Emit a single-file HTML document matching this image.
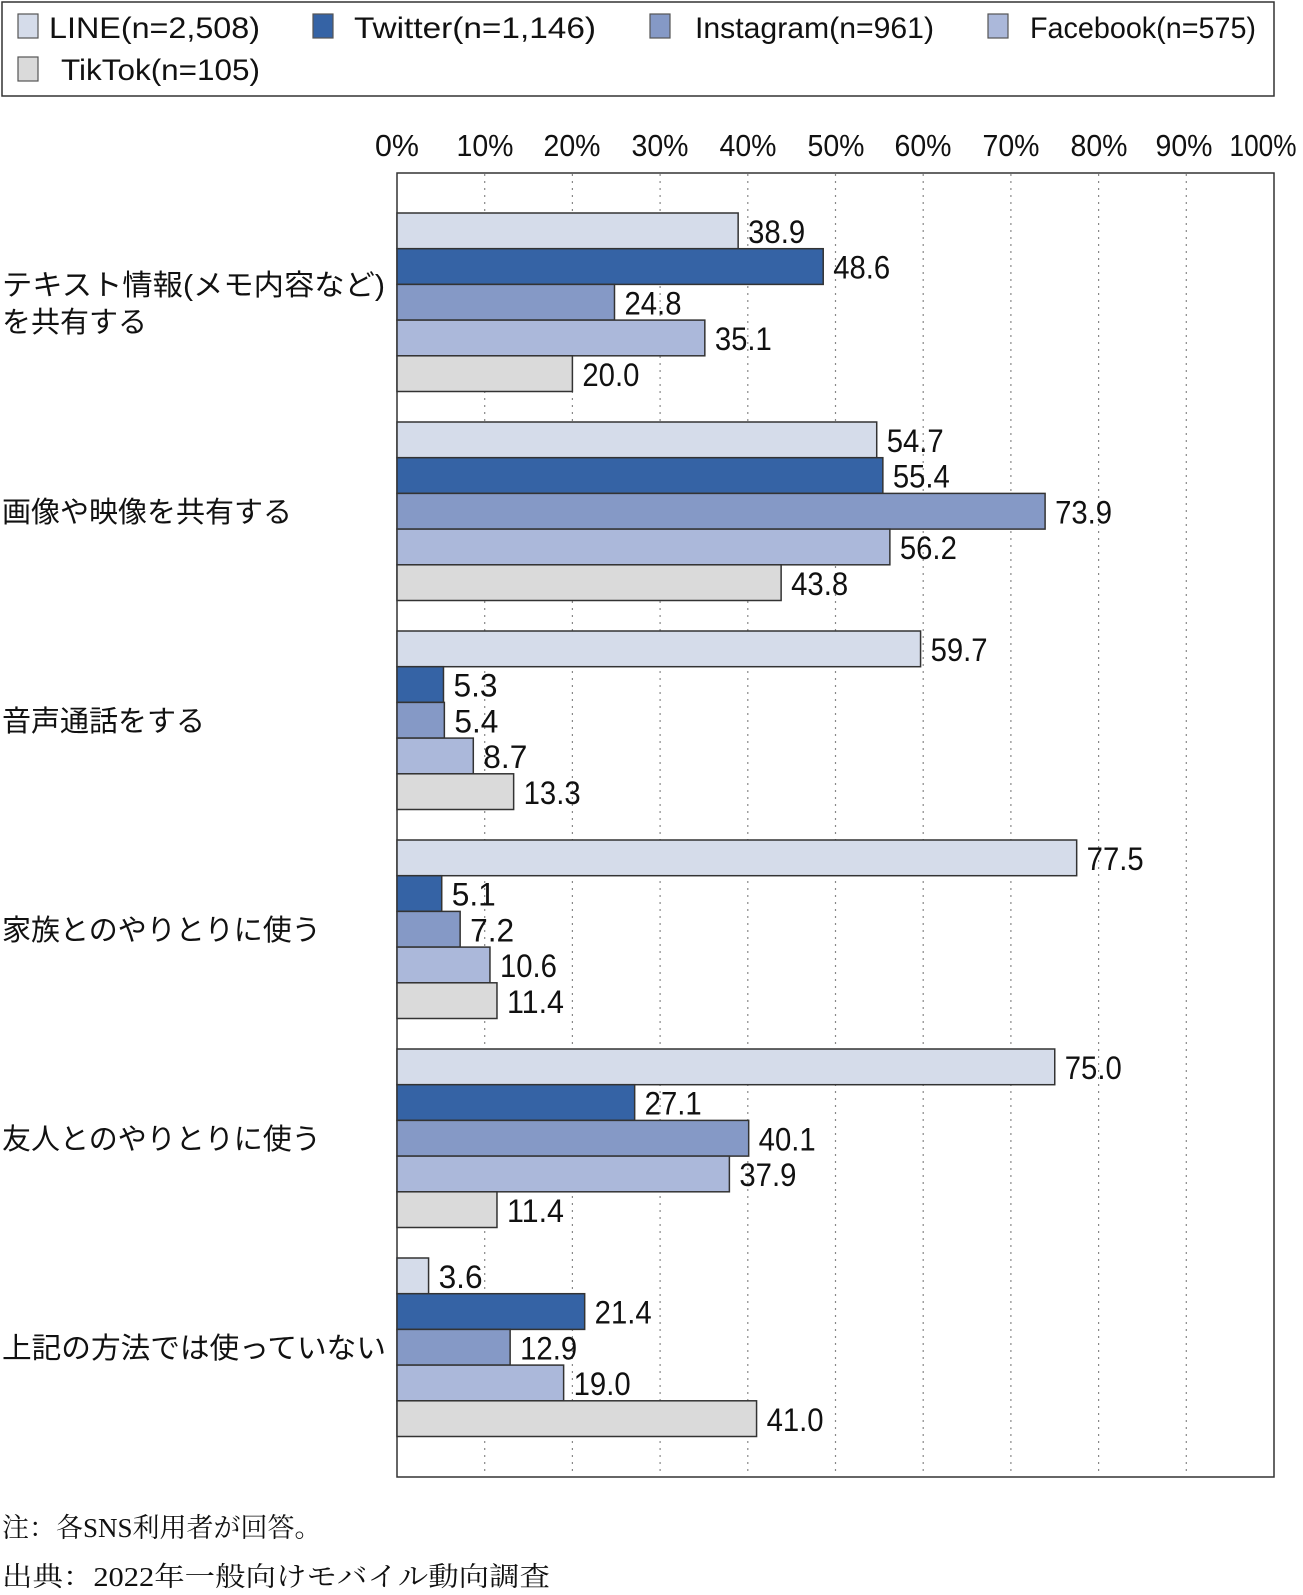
<!DOCTYPE html>
<html><head><meta charset="utf-8"><style>body{margin:0;background:#fff}svg{display:block}</style></head><body>
<svg width="1303" height="1595" xmlns="http://www.w3.org/2000/svg" font-family="'Liberation Sans','Noto Sans CJK JP',sans-serif">
<rect x="2" y="2" width="1272" height="94" fill="#fff" stroke="#333" stroke-width="1.5"/>
<g stroke="#555" stroke-width="1.2">
<rect x="18" y="14" width="20" height="24" fill="#d5dcea"/>
<rect x="313" y="14" width="20" height="24" fill="#3563a5"/>
<rect x="650" y="14" width="20" height="24" fill="#8599c6"/>
<rect x="988" y="14" width="20" height="24" fill="#abb8da"/>
<rect x="18" y="57" width="20" height="24" fill="#dadada"/>
</g>
<g font-size="30" fill="#111" lengthAdjust="spacingAndGlyphs">
<text x="49" y="38" textLength="211" lengthAdjust="spacingAndGlyphs">LINE(n=2,508)</text>
<text x="354" y="38" textLength="242" lengthAdjust="spacingAndGlyphs">Twitter(n=1,146)</text>
<text x="695" y="38" textLength="239" lengthAdjust="spacingAndGlyphs">Instagram(n=961)</text>
<text x="1030" y="38" textLength="226" lengthAdjust="spacingAndGlyphs">Facebook(n=575)</text>
<text x="61" y="80" textLength="199" lengthAdjust="spacingAndGlyphs">TikTok(n=105)</text>
</g>
<g font-size="31" fill="#111" text-anchor="middle">
<text x="397" y="156" textLength="44" lengthAdjust="spacingAndGlyphs">0%</text>
<text x="485" y="156" textLength="57" lengthAdjust="spacingAndGlyphs">10%</text>
<text x="572" y="156" textLength="57" lengthAdjust="spacingAndGlyphs">20%</text>
<text x="660" y="156" textLength="57" lengthAdjust="spacingAndGlyphs">30%</text>
<text x="748" y="156" textLength="57" lengthAdjust="spacingAndGlyphs">40%</text>
<text x="836" y="156" textLength="57" lengthAdjust="spacingAndGlyphs">50%</text>
<text x="923" y="156" textLength="57" lengthAdjust="spacingAndGlyphs">60%</text>
<text x="1011" y="156" textLength="57" lengthAdjust="spacingAndGlyphs">70%</text>
<text x="1099" y="156" textLength="57" lengthAdjust="spacingAndGlyphs">80%</text>
<text x="1184" y="156" textLength="57" lengthAdjust="spacingAndGlyphs">90%</text>
<text x="1263" y="156" textLength="67" lengthAdjust="spacingAndGlyphs">100%</text>
</g>
<rect x="397" y="173" width="877" height="1304" fill="#fff" stroke="#333" stroke-width="1.5"/>
<g stroke="#888" stroke-width="1.2" stroke-dasharray="2,5">
<line x1="484.7" y1="174" x2="484.7" y2="1476"/><line x1="572.4" y1="174" x2="572.4" y2="1476"/>
<line x1="660.1" y1="174" x2="660.1" y2="1476"/><line x1="747.8" y1="174" x2="747.8" y2="1476"/>
<line x1="835.5" y1="174" x2="835.5" y2="1476"/><line x1="923.2" y1="174" x2="923.2" y2="1476"/>
<line x1="1010.9" y1="174" x2="1010.9" y2="1476"/><line x1="1098.6" y1="174" x2="1098.6" y2="1476"/>
<line x1="1186.3" y1="174" x2="1186.3" y2="1476"/>
</g>
<g id="bars" stroke="#333" stroke-width="1.5"></g>
<g id="vals" font-size="32" fill="#111"></g>
<g font-size="29" fill="#111">
<text x="2" y="295" textLength="383" lengthAdjust="spacingAndGlyphs">テキスト情報(メモ内容など)</text>
<text x="2" y="332">を共有する</text>
<text x="2" y="522">画像や映像を共有する</text>
<text x="2" y="731">音声通話をする</text>
<text x="2" y="940">家族とのやりとりに使う</text>
<text x="2" y="1149">友人とのやりとりに使う</text>
<text x="2" y="1358" textLength="384" lengthAdjust="spacingAndGlyphs">上記の方法では使っていない</text>
</g>
<g font-family="'Liberation Serif','Noto Serif CJK SC',serif" font-size="27" fill="#111">
<text x="2" y="1537">注：各SNS利用者が回答。</text>
<text x="2" y="1586" textLength="548" lengthAdjust="spacingAndGlyphs">出典：2022年一般向けモバイル動向調査</text>
</g>
<script>
var d=[[38.9,48.6,24.8,35.1,20.0],[54.7,55.4,73.9,56.2,43.8],[59.7,5.3,5.4,8.7,13.3],[77.5,5.1,7.2,10.6,11.4],[75.0,27.1,40.1,37.9,11.4],[3.6,21.4,12.9,19.0,41.0]];
var c=["#d5dcea","#3563a5","#8599c6","#abb8da","#dadada"];
var ns="http://www.w3.org/2000/svg",B=document.getElementById("bars"),V=document.getElementById("vals");
for(var g=0;g<6;g++)for(var i=0;i<5;i++){
 var y=213+g*209+i*35.7,v=d[g][i],w=v*8.77;
 var r=document.createElementNS(ns,"rect");r.setAttribute("x",397);r.setAttribute("y",y);r.setAttribute("width",w);r.setAttribute("height",35.7);r.setAttribute("fill",c[i]);B.appendChild(r);
 var t=document.createElementNS(ns,"text");var s=v.toFixed(1);t.setAttribute("x",397+w+10);t.setAttribute("y",y+30);
 t.setAttribute("textLength",s.length==3?44:57);t.setAttribute("lengthAdjust","spacingAndGlyphs");t.textContent=s;V.appendChild(t);
}
</script>
</svg>
</body></html>
